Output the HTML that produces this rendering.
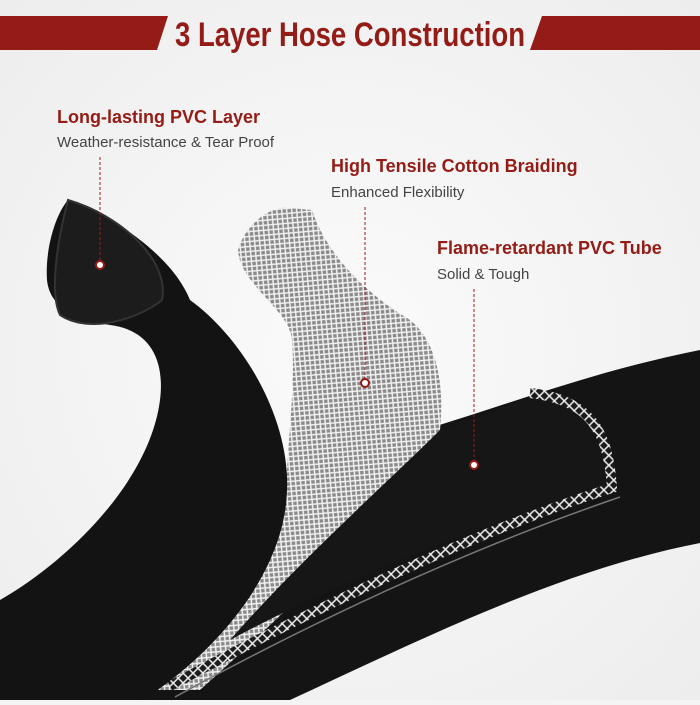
<!DOCTYPE html>
<html><head><style>
body{margin:0;width:700px;height:700px;overflow:hidden;background:#f4f4f4}
</style></head><body>
<svg width="700" height="700" viewBox="0 0 700 700" xmlns="http://www.w3.org/2000/svg">
<defs>
<radialGradient id="bg" cx="0.5" cy="0.5" r="0.7">
<stop offset="0" stop-color="#fbfbfb"/><stop offset="1" stop-color="#ededed"/></radialGradient>
<pattern id="mesh" width="7" height="7" patternUnits="userSpaceOnUse" patternTransform="rotate(40)">
<rect width="7" height="7" fill="#8a8a8a"/>
<path d="M0,0 L7,7 M7,0 L0,7" stroke="#f2f2f2" stroke-width="1.5"/>
</pattern>
<pattern id="mesh2" width="7" height="7" patternUnits="userSpaceOnUse" patternTransform="rotate(45)">
<rect width="7" height="7" fill="#1a1a1a"/>
<path d="M0,3.5 L7,3.5 M3.5,0 L3.5,7" stroke="#f0f0f0" stroke-width="1.5"/>
</pattern>
</defs>
<rect width="700" height="700" fill="url(#bg)"/>
<polygon points="0,16 168,16 157,50 0,50" fill="#951c16"/>
<polygon points="542,16 700,16 700,50 530,50" fill="#951c16"/>
<text x="175" y="46" textLength="350" lengthAdjust="spacingAndGlyphs" font-family="Liberation Sans Narrow, Liberation Sans, sans-serif" font-weight="bold" font-size="34" fill="#951c16">3 Layer Hose Construction</text>

<path d="M140,700 L290,700 C420,640 560,570 700,543 L700,350 C600,370 520,400 430,428 C330,470 250,540 140,700 Z" fill="#141414"/>
<path d="M290,208 C270,205 245,225 238,250 C240,285 290,310 292,340 C295,380 290,420 287,470 C260,540 200,620 150,690 L200,690 C300,600 380,520 440,430 C445,380 435,340 410,320 C360,290 325,250 312,210 Z" fill="url(#mesh)"/>
<path d="M440,430 C470,420 500,408 530,398 C570,392 600,420 607,485 C500,520 360,570 230,640 C300,560 390,480 440,430 Z" fill="#161616"/>
<path d="M170,686 C330,600 480,530 612,488 C608,430 590,400 530,393" fill="none" stroke="url(#mesh2)" stroke-width="10"/>
<path d="M175,697 C330,612 480,545 620,497" fill="none" stroke="#777" stroke-width="1.5"/>
<path d="M68,200 C100,210 170,250 190,300 C245,340 290,420 287,490 C285,570 220,650 143,700 L0,700 L0,600 C70,560 150,480 160,400 C165,360 150,330 110,325 C80,320 50,310 47,280 C45,250 55,215 68,200 Z" fill="#131313"/>
<path d="M68,200 C60,230 48,290 60,315 C90,335 140,318 162,300 C170,260 120,215 68,200 Z" fill="#1c1c1c" stroke="#333" stroke-width="2"/>

<text x="57" y="123" font-family="Liberation Sans, sans-serif" font-weight="bold" font-size="18" fill="#951c16">Long-lasting PVC Layer</text>
<text x="57" y="147" font-family="Liberation Sans, sans-serif" font-size="15" fill="#444">Weather-resistance &amp; Tear Proof</text>
<line x1="100" y1="157" x2="100" y2="262" stroke="#951c16" stroke-dasharray="3,2"/>
<circle cx="100" cy="265" r="4" fill="#fff" stroke="#951c16" stroke-width="2"/>

<text x="331" y="172" font-family="Liberation Sans, sans-serif" font-weight="bold" font-size="18" fill="#951c16">High Tensile Cotton Braiding</text>
<text x="331" y="197" font-family="Liberation Sans, sans-serif" font-size="15" fill="#444">Enhanced Flexibility</text>
<line x1="365" y1="207" x2="365" y2="380" stroke="#951c16" stroke-dasharray="3,2"/>
<circle cx="365" cy="383" r="4" fill="#fff" stroke="#951c16" stroke-width="2"/>

<text x="437" y="254" font-family="Liberation Sans, sans-serif" font-weight="bold" font-size="18" fill="#951c16">Flame-retardant PVC Tube</text>
<text x="437" y="279" font-family="Liberation Sans, sans-serif" font-size="15" fill="#444">Solid &amp; Tough</text>
<line x1="474" y1="289" x2="474" y2="462" stroke="#951c16" stroke-dasharray="3,2"/>
<circle cx="474" cy="465" r="4" fill="#fff" stroke="#951c16" stroke-width="2"/>
</svg>
</body></html>
